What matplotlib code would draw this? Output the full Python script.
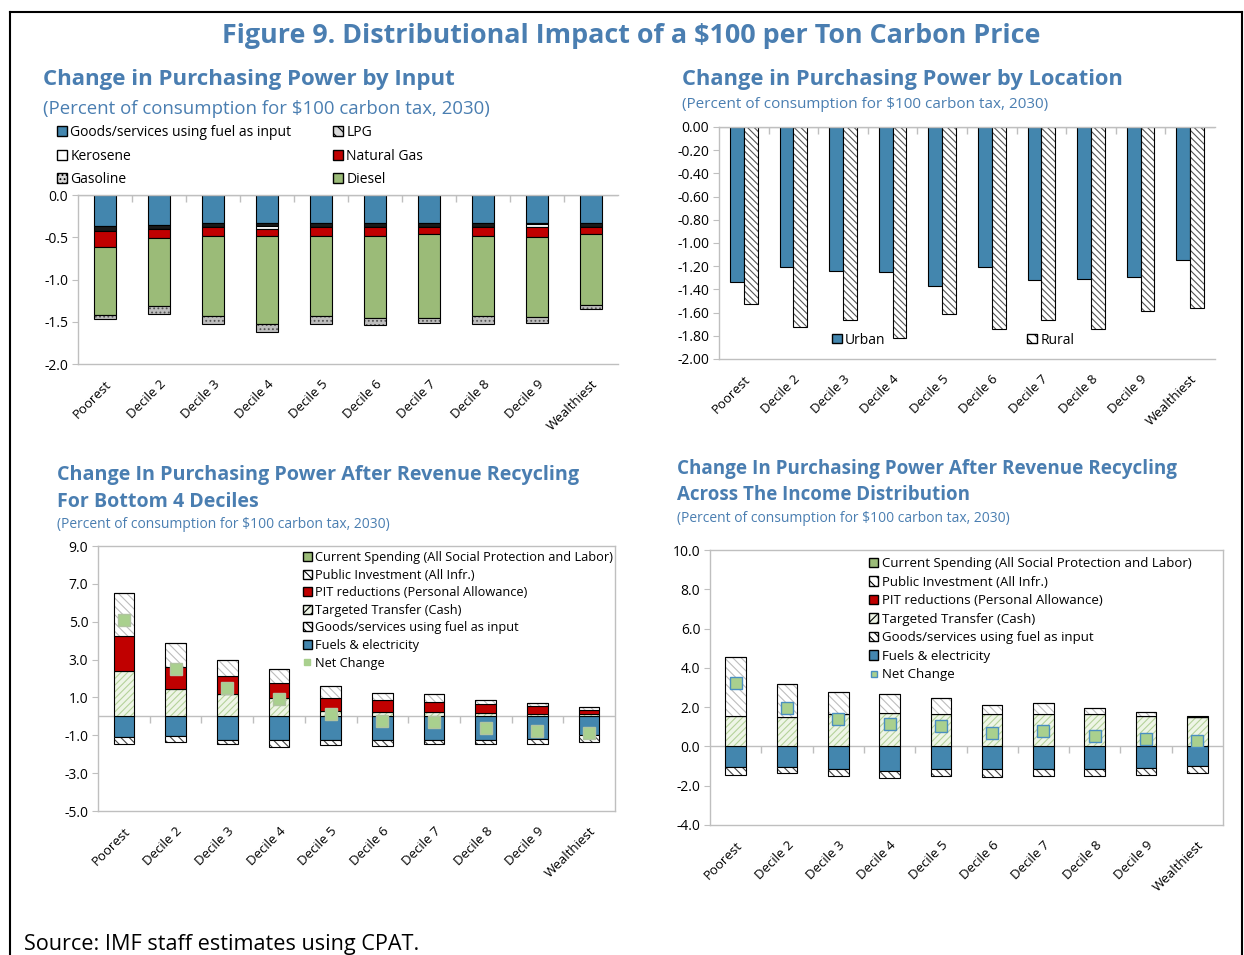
import numpy as np
import matplotlib
matplotlib.use("Agg")
import matplotlib.pyplot as plt
from matplotlib.patches import Patch
from matplotlib.lines import Line2D

plt.rcParams['font.family'] = ['Open Sans', 'DejaVu Sans']
plt.rcParams['hatch.linewidth'] = 0.8

# ---- data ----
deciles = ['Poorest', 'Decile 2', 'Decile 3', 'Decile 4', 'Decile 5',
           'Decile 6', 'Decile 7', 'Decile 8', 'Decile 9', 'Wealthiest']

# by input (negative, stacked from 0 downward)
goods_in = [-0.365, -0.357, -0.333, -0.333, -0.333, -0.333, -0.333, -0.333, -0.333, -0.333]
lpg = [-0.060, -0.048, -0.048, -0.032, -0.048, -0.048, -0.048, -0.048, -0.016, -0.048]
kerosene = [0.0, 0.0, 0.0, -0.032, 0.0, 0.0, 0.0, 0.0, -0.024, 0.0]
natgas = [-0.185, -0.107, -0.100, -0.083, -0.100, -0.100, -0.083, -0.100, -0.120, -0.083]
diesel = [-0.815, -0.800, -0.953, -1.052, -0.953, -0.972, -0.988, -0.953, -0.949, -0.834]
gasoline = [-0.045, -0.092, -0.087, -0.087, -0.087, -0.088, -0.068, -0.087, -0.067, -0.047]

# by location
urban = [-1.34, -1.21, -1.24, -1.25, -1.37, -1.21, -1.32, -1.31, -1.29, -1.15]
rural = [-1.53, -1.72, -1.66, -1.82, -1.61, -1.74, -1.66, -1.74, -1.59, -1.56]

# recycling, bottom 4 deciles
b4_fuels = [-1.09, -1.02, -1.23, -1.27, -1.23, -1.23, -1.23, -1.23, -1.18, -0.97]
b4_goods = [-0.39, -0.35, -0.25, -0.33, -0.30, -0.32, -0.25, -0.25, -0.30, -0.40]
b4_tt = [2.37, 1.44, 1.18, 0.97, 0.26, 0.21, 0.21, 0.16, 0.10, 0.10]
b4_pit = [1.85, 1.16, 0.93, 0.77, 0.72, 0.65, 0.55, 0.49, 0.44, 0.25]
b4_pi = [2.28, 1.30, 0.86, 0.77, 0.60, 0.35, 0.40, 0.23, 0.16, 0.12]
b4_cs = [0.0, 0.0, 0.0, 0.0, 0.0, 0.0, 0.0, 0.0, 0.0, 0.03]
b4_net = [5.08, 2.51, 1.49, 0.91, 0.10, -0.25, -0.32, -0.60, -0.76, -0.88]

# recycling, across the distribution
all_fuels = [-1.07, -1.07, -1.17, -1.24, -1.17, -1.17, -1.17, -1.17, -1.12, -0.99]
all_goods = [-0.38, -0.29, -0.34, -0.38, -0.33, -0.38, -0.34, -0.34, -0.33, -0.37]
all_tt = [1.56, 1.50, 1.63, 1.70, 1.63, 1.63, 1.63, 1.63, 1.56, 1.48]
all_pit = [0.0] * 10
all_pi = [3.01, 1.68, 1.13, 0.99, 0.82, 0.50, 0.56, 0.31, 0.19, 0.02]
all_cs = [0.0, 0.0, 0.0, 0.0, 0.0, 0.0, 0.0, 0.0, 0.0, 0.04]
all_net = [3.21, 1.96, 1.38, 1.14, 1.02, 0.70, 0.77, 0.53, 0.39, 0.29]

# ---- styles ----
TBLUE = '#4A7EB1'
BLUE = '#4386AE'
RED = '#C00000'
DGREEN = '#9BBB78'
NETG = '#A9D08E'
GRID = '#BFBFBF'

W, H = 1244, 955
fig = plt.figure(figsize=(W / 100, H / 100), dpi=100)
renderer = fig.canvas.get_renderer()


def px_axes(l, t, r, b):
    return fig.add_axes([l / W, 1 - b / H, (r - l) / W, (b - t) / H])


def fit_text(x, y, s, width, size=12, ha='left', **kw):
    t = fig.text(x / W, 1 - y / H, s, ha=ha, va='center', fontsize=size, **kw)
    w = t.get_window_extent(renderer).width
    t.set_fontsize(size * width / w)
    return t


def hbar(ax, x, h, b, w, face, hatch=None, hcol=None, lw=0.8):
    if hatch:
        ax.bar(x, h, w, bottom=b, color=face, hatch=hatch, edgecolor=hcol, linewidth=0)
        face = 'none'
    ax.bar(x, h, w, bottom=b, facecolor=face, edgecolor='black', linewidth=lw)


def style_axes(ax, ylim, step, fmt, right=True):
    x = np.arange(len(deciles))
    ax.set_xlim(-0.5, len(deciles) - 0.5)
    ax.set_ylim(*ylim)
    ticks = np.round(np.arange(ylim[0], ylim[1] + step / 2, step), 2) + 0.0
    ax.set_yticks(ticks)
    ax.set_yticklabels([fmt % t for t in ticks])
    ax.set_xticks(x)
    ax.set_xticklabels(deciles, rotation=45, ha='right', rotation_mode='anchor')
    ax.tick_params(axis='x', length=0, pad=10, labelsize=9.5)
    ax.tick_params(axis='y', length=4, color=GRID, labelsize=10, pad=3)
    for s in ['top', 'bottom', 'left', 'right']:
        ax.spines[s].set_color(GRID)
        ax.spines[s].set_linewidth(1)
    ax.spines['right'].set_visible(right)
    # zero line with category boundary ticks
    ax.axhline(0, color=GRID, lw=1, zorder=0.5)
    ax.plot(np.arange(0.5, len(deciles) - 0.5), np.zeros(len(deciles) - 1),
            ls='none', marker=3, ms=5, mew=1, color=GRID, zorder=0.5)


x = np.arange(len(deciles))

# ---- top left: by input ----
ax1 = px_axes(78, 195, 618, 364)
series1 = [
    (goods_in, BLUE, None, None),
    (lpg, '#1A1A1A', None, None),
    (kerosene, 'white', None, None),
    (natgas, RED, None, None),
    (diesel, DGREEN, None, None),
    (gasoline, '#BDBDBD', '....', '#555555'),
]
bottom = np.zeros(len(deciles))
for vals, face, hatch, hcol in series1:
    v = np.array(vals)
    hbar(ax1, x, v, bottom, 0.4, face, hatch, hcol)
    bottom = bottom + v
style_axes(ax1, (-2.0, 0.0), 0.5, '%.1f', right=False)
leg1 = [Patch(facecolor=BLUE, edgecolor='black', label='Goods/services using fuel as input'),
        Patch(facecolor='white', edgecolor='black', label='Kerosene'),
        Patch(facecolor='#D9D9D9', edgecolor='black', hatch='....', label='Gasoline'),
        Patch(facecolor='#D9D9D9', edgecolor='black', hatch='\\\\\\', label='LPG'),
        Patch(facecolor=RED, edgecolor='black', label='Natural Gas'),
        Patch(facecolor=DGREEN, edgecolor='black', label='Diesel')]
fig.legend(handles=leg1, loc='upper left', bbox_to_anchor=(57 / W, 1 - 125 / H), ncol=2,
           frameon=False, fontsize=10, handlelength=0.7, handleheight=0.7, handletextpad=0.25,
           labelspacing=0.62, columnspacing=3.0, borderpad=0, borderaxespad=0)

# ---- top right: by location ----
ax2 = px_axes(719, 127, 1215, 359)
ax2.bar(x - 0.14, urban, 0.28, color=BLUE, edgecolor='black', linewidth=0.8)
hbar(ax2, x + 0.14, np.array(rural), 0, 0.28, 'white', '\\\\\\\\\\', '#555555')
style_axes(ax2, (-2.0, 0.0), 0.2, '%.2f', right=False)
leg2 = [Patch(facecolor=BLUE, edgecolor='black', label='Urban'),
        Patch(facecolor='white', edgecolor='black', hatch='\\\\\\', label='Rural')]
fig.legend(handles=leg2, loc='center left', bbox_to_anchor=(832 / W, 1 - 340 / H), ncol=2,
           frameon=False, fontsize=10, handlelength=0.7, handleheight=0.7, handletextpad=0.25,
           columnspacing=10.2, borderpad=0, borderaxespad=0)


# ---- bottom: revenue recycling ----
def recycle(ax, fuels, goods, tt, pit, pi, cs, net, netedge):
    f = np.array(fuels)
    hbar(ax, x, f, 0, 0.4, BLUE)
    hbar(ax, x, np.array(goods), f, 0.4, 'white', '\\\\\\\\', '#444444')
    b = np.zeros(len(deciles))
    for vals, face, hatch, hcol in [(tt, '#EEF5E6', '/////', '#B5D29A'),
                                    (pit, RED, None, None),
                                    (pi, 'white', '\\\\\\\\', '#BDBDBD'),
                                    (cs, DGREEN, None, None)]:
        v = np.array(vals)
        hbar(ax, x, v, b, 0.4, face, hatch, hcol)
        b = b + v
    ax.plot(x, net, ls='none', marker='s', ms=8, mfc=NETG, mec=netedge, mew=1, zorder=5)


ax3 = px_axes(98, 546, 615, 811)
recycle(ax3, b4_fuels, b4_goods, b4_tt, b4_pit, b4_pi, b4_cs, b4_net, '#B0C4A0')
style_axes(ax3, (-5.0, 9.0), 2.0, '%.1f')

ax4 = px_axes(710, 550, 1223, 825)
recycle(ax4, all_fuels, all_goods, all_tt, all_pit, all_pi, all_cs, all_net, '#4A8FC0')
style_axes(ax4, (-4.0, 10.0), 2.0, '%.1f')


def rec_legend(x0, y0, netedge, size, spacing):
    hs = [Patch(facecolor=DGREEN, edgecolor='black', label='Current Spending (All Social Protection and Labor)'),
          Patch(facecolor='white', edgecolor='black', hatch='\\\\\\', label='Public Investment (All Infr.)'),
          Patch(facecolor=RED, edgecolor='black', label='PIT reductions (Personal Allowance)'),
          Patch(facecolor='#EEF5E6', edgecolor='black', hatch='////', label='Targeted Transfer (Cash)'),
          Patch(facecolor='white', edgecolor='black', hatch='\\\\\\\\', label='Goods/services using fuel as input'),
          Patch(facecolor=BLUE, edgecolor='black', label='Fuels & electricity'),
          Line2D([], [], ls='none', marker='s', ms=5, mfc=NETG, mec=netedge, label='Net Change')]
    fig.legend(handles=hs, loc='upper left', bbox_to_anchor=(x0 / W, 1 - y0 / H), frameon=False,
               fontsize=size, handlelength=0.7, handleheight=0.7, handletextpad=0.25,
               labelspacing=spacing, borderpad=0, borderaxespad=0)


rec_legend(303, 551, NETG, 9.2, 0.36)
rec_legend(869, 557, '#4A8FC0', 9.5, 0.42)

# ---- titles ----
fit_text(631, 36, 'Figure 9. Distributional Impact of a $100 per Ton Carbon Price', 818,
         ha='center', color=TBLUE, fontweight='bold')
fit_text(43, 80, 'Change in Purchasing Power by Input', 412, color=TBLUE, fontweight='bold')
fit_text(43, 109, '(Percent of consumption for $100 carbon tax, 2030)', 445, color=TBLUE)
fit_text(682, 79, 'Change in Purchasing Power by Location', 440, color=TBLUE, fontweight='bold')
fit_text(682, 104, '(Percent of consumption for $100 carbon tax, 2030)', 365, color=TBLUE)
fit_text(57, 475, 'Change In Purchasing Power After Revenue Recycling', 521, color=TBLUE, fontweight='bold')
fit_text(57, 502, 'For Bottom 4 Deciles', 201, color=TBLUE, fontweight='bold')
fit_text(57, 525, '(Percent of consumption for $100 carbon tax, 2030)', 330, color=TBLUE)
fit_text(677, 469, 'Change In Purchasing Power After Revenue Recycling', 499, color=TBLUE, fontweight='bold')
fit_text(677, 495, 'Across The Income Distribution', 292, color=TBLUE, fontweight='bold')
fit_text(677, 518, '(Percent of consumption for $100 carbon tax, 2030)', 331, color=TBLUE)
fit_text(24, 944, 'Source: IMF staff estimates using CPAT.', 392, color='black')

# outer frame
for xs, ys in [([10, 10], [12, 960]), ([10, 1242], [12, 12]), ([1242, 1242], [12, 960])]:
    fig.add_artist(Line2D([v / W for v in xs], [1 - v / H for v in ys], color='black', lw=1.5))

fig.savefig('out.png', dpi=100)
